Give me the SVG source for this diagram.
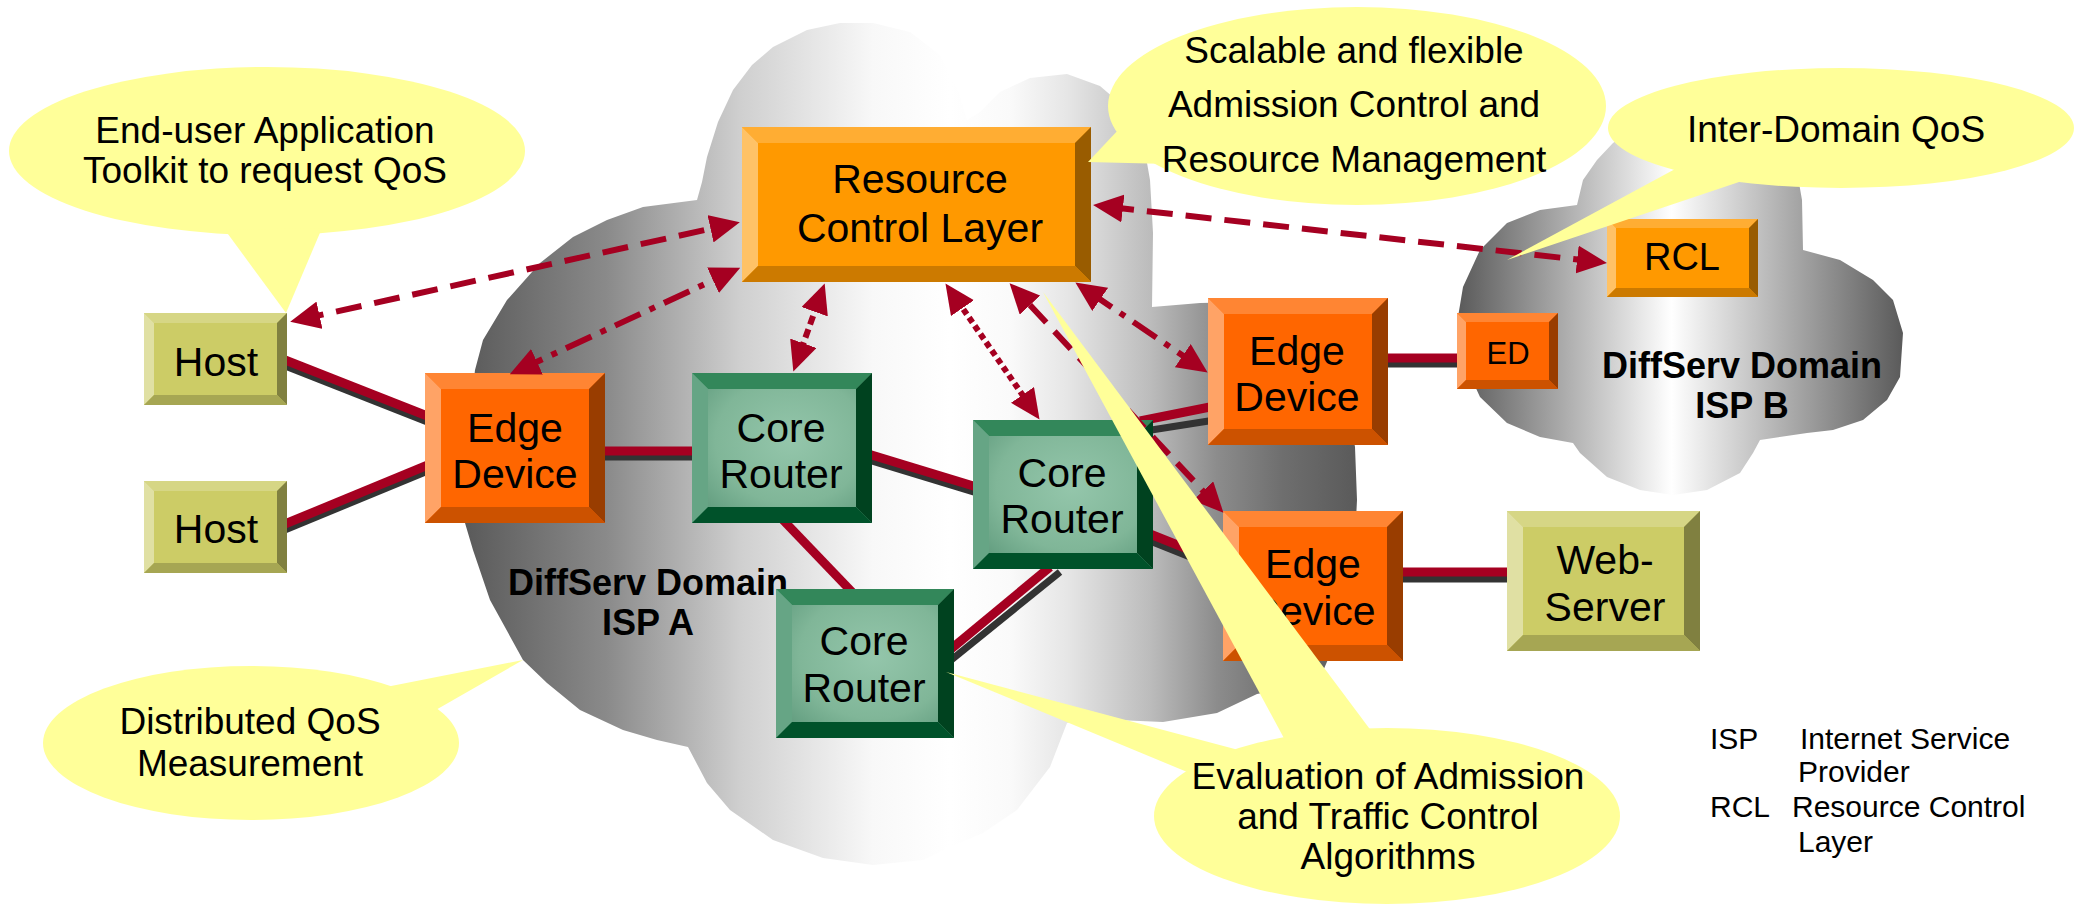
<svg xmlns="http://www.w3.org/2000/svg" width="2076" height="908" viewBox="0 0 2076 908">
<style>
text{font-family:"Liberation Sans",Arial,sans-serif;fill:#000}
.lbl{font-size:41px;text-anchor:middle}
.cal{font-size:37px;text-anchor:middle}
.dom{font-size:36px;font-weight:bold;text-anchor:middle}
.leg{font-size:30px}
.bubble{fill:#FFFF99}
.red{stroke:#A50021;stroke-width:9;fill:none}
.drk{stroke:#333333;stroke-width:7;fill:none}
.arr{stroke:#A50021;stroke-width:6;fill:none;marker-start:url(#ah);marker-end:url(#ah)}
.om{fill:#CCCC66}.ot{fill:#D6D685}.ol{fill:#E0E0A3}.or{fill:#808040}.ob{fill:#A6A653}
.em{fill:#FF6600}.et{fill:#FF8533}.el{fill:#FFA366}.er{fill:#993D00}.eb{fill:#CC5200}
.am{fill:#FF9900}.at{fill:#FFAD33}.al{fill:#FFC266}.ar{fill:#995C00}.ab{fill:#CC7A00}
.gm{fill:url(#gg)}.gt{fill:#33875A}.gl{fill:#66A585}.gr{fill:#00421F}.gb{fill:#00522A}
</style>
<defs>
<linearGradient id="cA" gradientUnits="userSpaceOnUse" x1="465" y1="0" x2="1357" y2="0">
<stop offset="0" stop-color="#5a5a5a"/>
<stop offset="0.159" stop-color="#8a8a8a"/>
<stop offset="0.308" stop-color="#cfcfcf"/>
<stop offset="0.457" stop-color="#f8f8f8"/>
<stop offset="0.544" stop-color="#ffffff"/>
<stop offset="0.611" stop-color="#fafafa"/>
<stop offset="0.675" stop-color="#e6e6e6"/>
<stop offset="0.768" stop-color="#bcbcbc"/>
<stop offset="0.843" stop-color="#8c8c8c"/>
<stop offset="0.917" stop-color="#6e6e6e"/>
<stop offset="1" stop-color="#5a5a5a"/>
</linearGradient>
<linearGradient id="cB" gradientUnits="userSpaceOnUse" x1="1458" y1="0" x2="1903" y2="0">
<stop offset="0" stop-color="#5a5a5a"/><stop offset="0.48" stop-color="#ffffff"/><stop offset="1" stop-color="#5a5a5a"/>
</linearGradient>
<radialGradient id="gg" cx="0.55" cy="0.45" r="0.7">
<stop offset="0" stop-color="#94C6AB"/><stop offset="0.6" stop-color="#80B698"/><stop offset="1" stop-color="#5C987A"/>
</radialGradient>
<marker id="ah" viewBox="0 0 30 28" refX="22" refY="14" markerWidth="30" markerHeight="28" markerUnits="userSpaceOnUse" orient="auto-start-reverse">
<path d="M0,0 L30,14 L0,28 z" fill="#A50021"/>
</marker>
</defs>

<g id="cloud-a">
<path fill="url(#cA)" d="M475,370 L483,340 L507,300 L540,263 L573,237 L607,220 L643,207 L697,200 L702,182 L707,157 L718,122 L733,90 L752,65 L773,47 L807,30 L840,23 L873,23 L910,32 L940,55 L958,90 L967,120 L980,112 L1000,92 L1030,78 L1067,74 L1100,86 L1128,110 L1143,140 L1150,180 L1153,233 L1152,307 L1200,303 L1250,302 L1295,315 L1328,345 L1347,400 L1355,447 L1357,500 L1354,560 L1345,620 L1323,671 L1290,688 L1257,694 L1217,713 L1163,722 L1117,720 L1067,723 L1050,767 L1017,810 L983,833 L950,847 L923,860 L873,865 L823,858 L773,840 L730,810 L707,783 L688,747 L657,740 L623,730 L580,710 L547,683 L523,660 L490,600 L473,550 L465,523 L466,450 Z"/>
<text class="dom" x="648" y="595">DiffServ Domain</text>
<text class="dom" x="648" y="635">ISP A</text>
</g>
<g id="cloud-b">
<path fill="url(#cB)" d="M1577,205 L1583,180 L1597,160 L1613,143 L1635,128 L1660,120 L1700,115 L1740,118 L1775,135 L1795,160 L1802,200 L1803,250 L1840,260 L1873,280 L1893,300 L1903,333 L1900,377 L1887,400 L1863,420 L1833,430 L1807,433 L1760,440 L1753,453 L1740,473 L1707,490 L1673,495 L1640,490 L1607,477 L1580,453 L1573,443 L1540,437 L1507,423 L1480,397 L1463,360 L1458,317 L1463,287 L1480,250 L1507,223 L1540,210 Z"/>
<text class="dom" x="1742" y="378">DiffServ Domain</text>
<text class="dom" x="1742" y="418">ISP B</text>
</g>

<g id="links">
<line class="drk" x1="280" y1="364" x2="440" y2="427"/><line class="red" x1="280" y1="358" x2="440" y2="421"/>
<line class="drk" x1="280" y1="532" x2="440" y2="466"/><line class="red" x1="280" y1="526" x2="440" y2="460"/>
<line class="drk" x1="600" y1="457" x2="700" y2="457"/><line class="red" x1="600" y1="451" x2="700" y2="451"/>
<line class="drk" x1="865" y1="459" x2="980" y2="494"/><line class="red" x1="865" y1="453" x2="980" y2="488"/>
<line class="red" x1="783" y1="520" x2="852" y2="592"/>
<line class="drk" x1="945" y1="665" x2="1060" y2="572"/><line class="red" x1="945" y1="654" x2="1050" y2="567"/>
<line class="drk" x1="1145" y1="539" x2="1230" y2="573"/><line class="red" x1="1145" y1="532" x2="1230" y2="566"/>
<line class="drk" x1="1145" y1="431" x2="1215" y2="420"/><line class="red" x1="1140" y1="421" x2="1215" y2="406"/>
<line class="drk" x1="1385" y1="364" x2="1460" y2="364"/><line class="red" x1="1385" y1="358" x2="1460" y2="358"/>
<line class="drk" x1="1400" y1="579" x2="1510" y2="579"/><line class="red" x1="1400" y1="572" x2="1510" y2="572"/>
</g>

<g id="host1">
<rect class="om" x="144" y="313" width="143" height="92"/>
<polygon class="ot" points="144,313 287,313 277,323 154,323"/>
<polygon class="ol" points="144,313 154,323 154,395 144,405"/>
<polygon class="or" points="287,313 287,405 277,395 277,323"/>
<polygon class="ob" points="144,405 287,405 277,395 154,395"/>
<text class="lbl" x="216" y="376">Host</text>
</g>
<g id="host2">
<rect class="om" x="144" y="481" width="143" height="92"/>
<polygon class="ot" points="144,481 287,481 277,491 154,491"/>
<polygon class="ol" points="144,481 154,491 154,563 144,573"/>
<polygon class="or" points="287,481 287,573 277,563 277,491"/>
<polygon class="ob" points="144,573 287,573 277,563 154,563"/>
<text class="lbl" x="216" y="543">Host</text>
</g>
<g id="edge1">
<rect class="em" x="425" y="373" width="180" height="150"/>
<polygon class="et" points="425,373 605,373 589,389 441,389"/>
<polygon class="el" points="425,373 441,389 441,507 425,523"/>
<polygon class="er" points="605,373 605,523 589,507 589,389"/>
<polygon class="eb" points="425,523 605,523 589,507 441,507"/>
<text class="lbl" x="515" y="442">Edge</text>
<text class="lbl" x="515" y="488">Device</text>
</g>
<g id="core1">
<rect class="gm" x="692" y="373" width="180" height="150"/>
<polygon class="gt" points="692,373 872,373 856,389 708,389"/>
<polygon class="gl" points="692,373 708,389 708,507 692,523"/>
<polygon class="gr" points="872,373 872,523 856,507 856,389"/>
<polygon class="gb" points="692,523 872,523 856,507 708,507"/>
<text class="lbl" x="781" y="442">Core</text>
<text class="lbl" x="781" y="488">Router</text>
</g>
<g id="core2">
<rect class="gm" x="973" y="420" width="180" height="149"/>
<polygon class="gt" points="973,420 1153,420 1137,436 989,436"/>
<polygon class="gl" points="973,420 989,436 989,553 973,569"/>
<polygon class="gr" points="1153,420 1153,569 1137,553 1137,436"/>
<polygon class="gb" points="973,569 1153,569 1137,553 989,553"/>
<text class="lbl" x="1062" y="487">Core</text>
<text class="lbl" x="1062" y="533">Router</text>
</g>
<g id="core3">
<rect class="gm" x="776" y="589" width="178" height="149"/>
<polygon class="gt" points="776,589 954,589 938,605 792,605"/>
<polygon class="gl" points="776,589 792,605 792,722 776,738"/>
<polygon class="gr" points="954,589 954,738 938,722 938,605"/>
<polygon class="gb" points="776,738 954,738 938,722 792,722"/>
<text class="lbl" x="864" y="655">Core</text>
<text class="lbl" x="864" y="702">Router</text>
</g>
<g id="edge2">
<rect class="em" x="1208" y="298" width="180" height="147"/>
<polygon class="et" points="1208,298 1388,298 1372,314 1224,314"/>
<polygon class="el" points="1208,298 1224,314 1224,429 1208,445"/>
<polygon class="er" points="1388,298 1388,445 1372,429 1372,314"/>
<polygon class="eb" points="1208,445 1388,445 1372,429 1224,429"/>
<text class="lbl" x="1297" y="365">Edge</text>
<text class="lbl" x="1297" y="411">Device</text>
</g>
<g id="edge3">
<rect class="em" x="1223" y="511" width="180" height="150"/>
<polygon class="et" points="1223,511 1403,511 1387,527 1239,527"/>
<polygon class="el" points="1223,511 1239,527 1239,645 1223,661"/>
<polygon class="er" points="1403,511 1403,661 1387,645 1387,527"/>
<polygon class="eb" points="1223,661 1403,661 1387,645 1239,645"/>
<text class="lbl" x="1313" y="578">Edge</text>
<text class="lbl" x="1313" y="625">Device</text>
</g>
<g id="ed">
<rect class="em" x="1457" y="313" width="101" height="76"/>
<polygon class="et" points="1457,313 1558,313 1549,322 1466,322"/>
<polygon class="el" points="1457,313 1466,322 1466,380 1457,389"/>
<polygon class="er" points="1558,313 1558,389 1549,380 1549,322"/>
<polygon class="eb" points="1457,389 1558,389 1549,380 1466,380"/>
<text x="1508" y="364" style="font-size:31px;text-anchor:middle">ED</text>
</g>
<g id="rcl-b">
<rect class="am" x="1607" y="219" width="151" height="78"/>
<polygon class="at" points="1607,219 1758,219 1749,228 1616,228"/>
<polygon class="al" points="1607,219 1616,228 1616,288 1607,297"/>
<polygon class="ar" points="1758,219 1758,297 1749,288 1749,228"/>
<polygon class="ab" points="1607,297 1758,297 1749,288 1616,288"/>
<text x="1682" y="270" style="font-size:38px;text-anchor:middle">RCL</text>
</g>
<g id="rcl">
<rect class="am" x="742" y="127" width="349" height="155"/>
<polygon class="at" points="742,127 1091,127 1075,143 758,143"/>
<polygon class="al" points="742,127 758,143 758,266 742,282"/>
<polygon class="ar" points="1091,127 1091,282 1075,266 1075,143"/>
<polygon class="ab" points="742,282 1091,282 1075,266 758,266"/>
<text class="lbl" x="920" y="193">Resource</text>
<text class="lbl" x="920" y="242">Control Layer</text>
</g>
<g id="web">
<rect class="om" x="1507" y="511" width="193" height="140"/>
<polygon class="ot" points="1507,511 1700,511 1684,527 1523,527"/>
<polygon class="ol" points="1507,511 1523,527 1523,635 1507,651"/>
<polygon class="or" points="1700,511 1700,651 1684,635 1684,527"/>
<polygon class="ob" points="1507,651 1700,651 1684,635 1523,635"/>
<text class="lbl" x="1605" y="574">Web-</text>
<text class="lbl" x="1605" y="621">Server</text>
</g>

<g id="arrows">
<line class="arr" x1="298" y1="320" x2="732" y2="224" stroke-dasharray="26 13"/>
<line class="arr" x1="517" y1="371" x2="733" y2="271" stroke-dasharray="28 10 6 10"/>
<line class="arr" x1="796" y1="364" x2="822" y2="291" stroke-dasharray="9 5"/>
<line class="arr" x1="1035" y1="413" x2="950" y2="290" stroke-dasharray="6 4"/>
<line class="arr" x1="1218" y1="507" x2="1015" y2="289" stroke-dasharray="24 12"/>
<line class="arr" x1="1201" y1="368" x2="1082" y2="287" stroke-dasharray="28 10 6 10"/>
<line class="arr" x1="1599" y1="262" x2="1101" y2="206" stroke-dasharray="26 13"/>
</g>

<g id="callout-enduser">
<ellipse class="bubble" cx="267" cy="151" rx="258" ry="84"/>
<polygon class="bubble" points="225,230 322,228 286,313"/>
<text class="cal" x="265" y="143">End-user Application</text>
<text class="cal" x="265" y="183">Toolkit to request QoS</text>
</g>
<g id="callout-scalable">
<ellipse class="bubble" cx="1357" cy="106" rx="249" ry="99"/>
<polygon class="bubble" points="1120,128 1168,164 1088,162"/>
<text class="cal" x="1354" y="63">Scalable and flexible</text>
<text class="cal" x="1354" y="117">Admission Control and</text>
<text class="cal" x="1354" y="172">Resource Management</text>
</g>
<g id="callout-interdomain">
<ellipse class="bubble" cx="1841" cy="128" rx="233" ry="60"/>
<polygon class="bubble" points="1677,168 1745,180 1507,260"/>
<text class="cal" x="1836" y="142">Inter-Domain QoS</text>
</g>
<g id="callout-distributed">
<ellipse class="bubble" cx="251" cy="743" rx="208" ry="77"/>
<polygon class="bubble" points="381,688 434,711 523,660"/>
<text class="cal" x="250" y="734">Distributed QoS</text>
<text class="cal" x="250" y="776">Measurement</text>
</g>
<g id="callout-evaluation">
<ellipse class="bubble" cx="1387" cy="816" rx="233" ry="88"/>
<polygon class="bubble" points="1043,292 1286,742 1372,732"/>
<polygon class="bubble" points="946,672 1246,752 1192,774"/>
<text class="cal" x="1388" y="789">Evaluation of Admission</text>
<text class="cal" x="1388" y="829">and Traffic Control</text>
<text class="cal" x="1388" y="869">Algorithms</text>
</g>

<g id="legend">
<text class="leg" x="1710" y="749">ISP</text>
<text class="leg" x="1800" y="749">Internet Service</text>
<text class="leg" x="1798" y="782">Provider</text>
<text class="leg" x="1710" y="817">RCL</text>
<text class="leg" x="1792" y="817">Resource Control</text>
<text class="leg" x="1798" y="852">Layer</text>
</g>
</svg>
